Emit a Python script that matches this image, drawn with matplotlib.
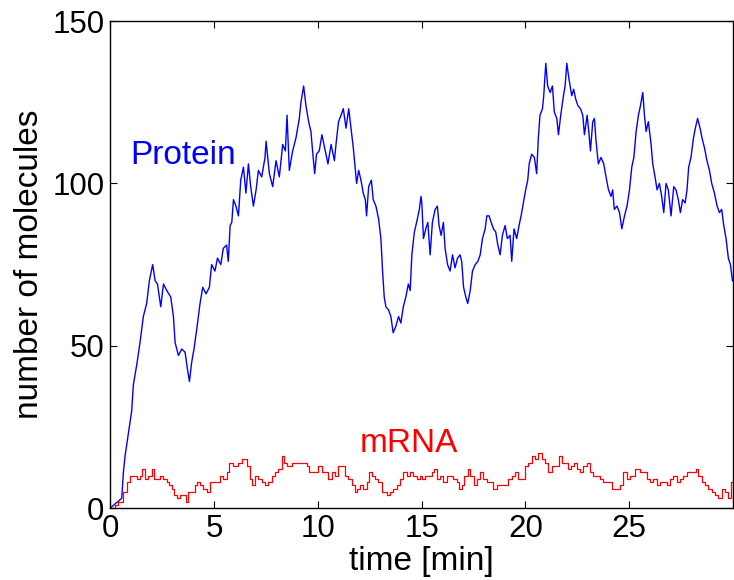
import matplotlib
matplotlib.use('Agg')
import matplotlib.pyplot as plt

# protein trace (time in min, molecule count)
protein_t = [0.0, 0.56, 0.64, 0.72, 0.88, 1.04, 1.12, 1.28, 1.44, 1.6, 1.76, 1.89, 2.05, 2.17, 2.28, 2.44,
             2.57, 2.73, 2.92, 3.05, 3.13, 3.29, 3.45, 3.61, 3.72, 3.82, 3.93, 4.04, 4.17, 4.33, 4.46, 4.62,
             4.78, 4.89, 5.05, 5.17, 5.33, 5.45, 5.61, 5.69, 5.78, 5.86, 5.94, 6.06, 6.18, 6.29, 6.42, 6.54,
             6.66, 6.77, 6.9, 7.03, 7.14, 7.3, 7.46, 7.51, 7.67, 7.83, 7.99, 8.15, 8.31, 8.44, 8.52, 8.63,
             8.79, 8.95, 9.11, 9.19, 9.32, 9.43, 9.56, 9.67, 9.75, 9.85, 9.94, 10.07, 10.2, 10.33, 10.49,
             10.64, 10.8, 10.91, 11.0, 11.12, 11.23, 11.36, 11.49, 11.6, 11.71, 11.81, 11.87, 11.97, 12.08,
             12.19, 12.29, 12.35, 12.45, 12.58, 12.67, 12.8, 12.93, 13.04, 13.12, 13.2, 13.28, 13.41, 13.52,
             13.63, 13.76, 13.89, 14.0, 14.12, 14.24, 14.36, 14.45, 14.53, 14.65, 14.76, 14.89, 14.97,
             15.01, 15.09, 15.2, 15.3, 15.41, 15.52, 15.65, 15.76, 15.84, 15.94, 16.05, 16.13, 16.25, 16.37,
             16.49, 16.61, 16.73, 16.85, 16.93, 17.02, 17.13, 17.22, 17.34, 17.45, 17.58, 17.71, 17.82,
             17.93, 18.06, 18.14, 18.25, 18.35, 18.46, 18.57, 18.67, 18.78, 18.89, 19.02, 19.13, 19.26,
             19.34, 19.45, 19.58, 19.69, 19.79, 19.9, 20.01, 20.11, 20.18, 20.3, 20.43, 20.54, 20.62, 20.7,
             20.82, 20.88, 20.98, 21.07, 21.19, 21.3, 21.39, 21.51, 21.59, 21.7, 21.83, 21.91, 21.99, 22.1,
             22.23, 22.32, 22.42, 22.52, 22.65, 22.76, 22.84, 22.97, 23.05, 23.13, 23.24, 23.32, 23.4,
             23.51, 23.64, 23.77, 23.88, 24.0, 24.12, 24.2, 24.28, 24.41, 24.53, 24.64, 24.77, 24.89,
             25.01, 25.12, 25.22, 25.33, 25.44, 25.54, 25.65, 25.73, 25.81, 25.92, 26.05, 26.13, 26.24,
             26.34, 26.45, 26.56, 26.66, 26.77, 26.88, 27.01, 27.14, 27.25, 27.36, 27.46, 27.57, 27.69,
             27.78, 27.86, 27.97, 28.09, 28.18, 28.29, 28.41, 28.5, 28.62, 28.74, 28.86, 28.97, 29.1,
             29.23, 29.34, 29.45, 29.55, 29.66, 29.77, 29.87, 29.97]
protein_n = [0, 3, 11, 16, 23, 30, 38, 44, 51, 59, 63, 70, 75, 70, 69, 62,
             69, 67, 65, 59, 51, 47, 49, 48, 43, 39, 45, 49, 55, 63, 68, 66,
             68, 75, 73, 77, 75, 80, 81, 76, 87, 88, 95, 93, 90, 101, 105, 97,
             106, 99, 93, 98, 104, 102, 108, 113, 103, 99, 107, 102, 112, 110, 121, 104,
             110, 114, 120, 125, 130, 124, 119, 116, 110, 103, 109, 110, 115, 111, 106,
             112, 107, 114, 119, 121, 123, 117, 123, 117, 111, 104, 100, 104, 101,
             97, 95, 90, 99, 101, 95, 93, 89, 83, 73, 65, 62, 61, 59,
             54, 56, 59, 57, 62, 65, 69, 67, 78, 85, 88, 92, 96,
             94, 83, 86, 88, 78, 88, 92, 93, 87, 84, 88, 80, 75, 73,
             78, 74, 77, 78, 76, 68, 65, 63, 67, 73, 75, 76, 78,
             83, 86, 90, 90, 88, 86, 85, 81, 78, 84, 87, 83, 84,
             76, 86, 83, 87, 90, 94, 98, 101, 106, 109, 108, 103, 114, 121,
             123, 127, 137, 130, 128, 130, 122, 120, 115, 121, 127, 130, 137, 132,
             127, 129, 126, 124, 123, 121, 115, 121, 116, 110, 119, 120, 113,
             106, 108, 106, 102, 98, 96, 98, 92, 93, 91, 86, 90, 93,
             98, 105, 108, 116, 121, 124, 128, 121, 116, 119, 112, 106, 102,
             98, 100, 96, 91, 100, 98, 90, 99, 98, 95, 91, 95, 94,
             98, 105, 108, 114, 117, 120, 117, 114, 111, 107, 104, 100, 97,
             93, 91, 92, 87, 83, 77, 75, 70]

# mRNA trace (integer counts, drawn as steps)
mrna_t = [0.0, 0.24, 0.4, 0.56, 0.64, 0.8, 0.96, 1.12, 1.28, 1.44, 1.56, 1.68, 1.84, 2.0, 2.13, 2.28,
          2.41, 2.57, 2.73, 2.86, 2.97, 3.08, 3.21, 3.37, 3.53, 3.66, 3.77, 3.93, 4.09, 4.2, 4.33, 4.49,
          4.65, 4.81, 4.97, 5.13, 5.29, 5.45, 5.61, 5.74, 5.9, 6.06, 6.18, 6.34, 6.45, 6.58, 6.74, 6.82,
          6.98, 7.14, 7.3, 7.46, 7.62, 7.78, 7.94, 8.1, 8.26, 8.37, 8.53, 8.74, 8.98, 9.22, 9.38, 9.46,
          9.59, 9.79, 10.03, 10.19, 10.35, 10.51, 10.67, 10.83, 10.99, 11.15, 11.31, 11.47, 11.63,
          11.79, 11.9, 12.03, 12.19, 12.35, 12.48, 12.59, 12.75, 12.91, 13.07, 13.31, 13.47, 13.63,
          13.8, 13.96, 14.12, 14.28, 14.44, 14.6, 14.76, 14.92,
          15.01, 15.17, 15.33, 15.49, 15.62, 15.73, 15.89, 16.05, 16.21, 16.37, 16.53, 16.69, 16.81,
          16.93, 17.06, 17.22, 17.34, 17.5, 17.66, 17.82, 17.98, 18.14, 18.3, 18.46, 18.62, 18.78,
          19.02, 19.18, 19.34, 19.5, 19.66, 19.82, 19.98, 20.14, 20.3, 20.46, 20.62, 20.78, 20.94,
          21.11, 21.27, 21.43, 21.62, 21.75, 21.91, 22.07, 22.2, 22.36, 22.47, 22.63, 22.79, 22.95,
          23.11, 23.27, 23.43, 23.59, 23.75, 23.91, 24.15, 24.39, 24.55, 24.72, 24.88, 25.04, 25.28,
          25.52, 25.68, 25.84, 26.0, 26.16, 26.32, 26.48, 26.64, 26.8, 26.96, 27.12, 27.28, 27.44,
          27.6, 27.76, 27.92, 28.08, 28.2, 28.33, 28.48, 28.64, 28.8, 28.97, 29.13, 29.29, 29.45,
          29.61, 29.77, 29.9, 30.0]
mrna_n = [0, 1, 2, 2, 5, 8, 10, 10, 9, 10, 12, 9, 10, 12, 9, 9,
          10, 9, 8, 7, 6, 4, 3, 4, 4, 2, 5, 5, 7, 8, 7, 6,
          5, 8, 8, 8, 10, 9, 11, 14, 13, 13, 14, 15, 15, 13, 9, 7,
          10, 9, 8, 7, 8, 10, 11, 12, 16, 14, 13, 14, 14, 14, 14, 13,
          11, 11, 13, 11, 11, 9, 11, 10, 13, 13, 10, 9, 7,
          5, 6, 7, 6, 8, 11, 10, 9, 8, 5, 4, 5, 6,
          7, 9, 11, 10, 11, 10, 9, 10,
          9, 10, 10, 11, 12, 9, 10, 8, 10, 10, 9, 8, 6,
          7, 10, 12, 10, 7, 9, 11, 9, 8, 8, 6, 7, 7,
          7, 9, 10, 11, 9, 9, 13, 14, 16, 15, 17, 15, 14,
          11, 13, 13, 16, 14, 14, 12, 13, 14, 12, 11, 13, 14,
          11, 10, 10, 9, 8, 8, 6, 6, 7, 11, 9, 10, 12,
          11, 11, 9, 8, 9, 7, 8, 8, 7, 9, 10, 8, 9,
          10, 11, 11, 11, 12, 10, 8, 7, 6, 5, 4, 3, 6,
          5, 3, 8, 8]

x_ticks = [0, 5, 10, 15, 20, 25]
y_ticks = [0, 50, 100, 150]

plt.rcParams['font.family'] = ['Liberation Sans', 'DejaVu Sans']

fig = plt.figure(figsize=(7.34, 5.80), dpi=100)
ax = fig.add_axes([0.150, 0.124, 0.8488, 0.8397])

ax.plot(protein_t, protein_n, color='#0000ff', lw=1.0)
ax.plot(mrna_t, mrna_n, color='#ff0000', lw=0.9, drawstyle='steps-post')

ax.text(0.96, 106, 'Protein', color='#0000ff', fontsize=24)
ax.text(12.0, 17.3, 'mRNA', color='#ff0000', fontsize=24)

ax.set_xlim(0, 30)
ax.set_ylim(0, 150)
ax.set_xticks(x_ticks)
ax.set_yticks(y_ticks)
ax.tick_params(direction='in', top=True, right=True, length=5, width=0.8,
               labelsize=22.5, pad=4)
for s in ax.spines.values():
    s.set_linewidth(1.0)

ax.set_xlabel('time [min]', fontsize=24, labelpad=1.5)
ax.set_ylabel('number of molecules', fontsize=24, labelpad=5)

fig.savefig('out.png', dpi=100)
